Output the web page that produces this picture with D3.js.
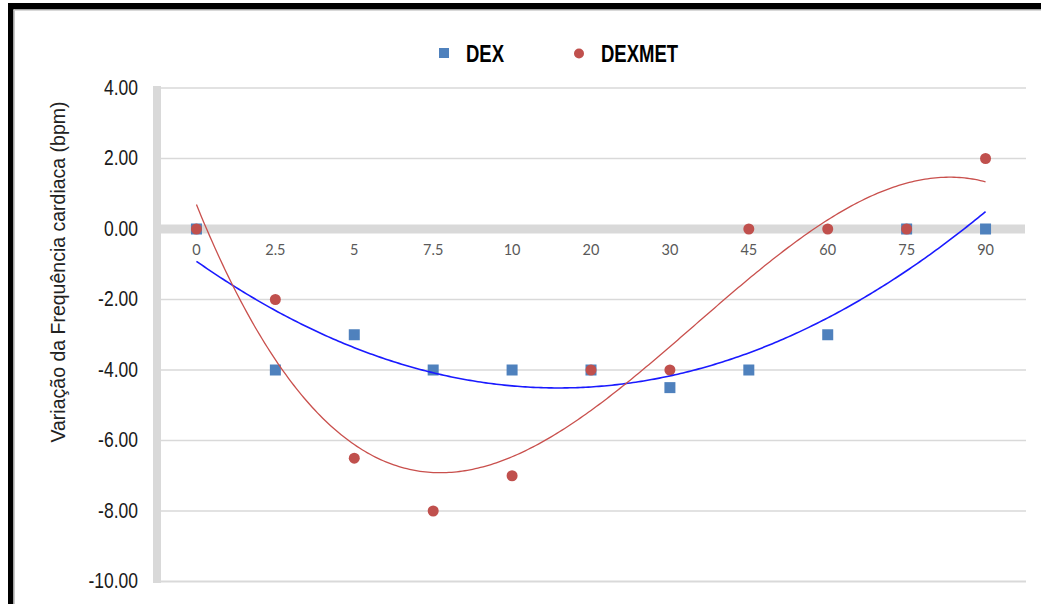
<!DOCTYPE html>
<html>
<head>
<meta charset="utf-8">
<script src="https://cdn.jsdelivr.net/npm/d3@7"></script>
<style>
  html, body { margin: 0; padding: 0; background: #fff; }
  svg { display: block; }
</style>
</head>
<body>
<svg id="chart" width="1041" height="604"></svg>
<script>
// Time points (min) shown as categories along the axis
const categories = ["0", "2.5", "5", "7.5", "10", "20", "30", "45", "60", "75", "90"];
// Heart-rate change (bpm) per group
const dexValues    = [0, -4, -3, -4, -4, -4, -4.5, -4, -3, 0, 0];
const dexmetValues = [0, -2, -6.5, -8, -7, -4, -4, 0, 0, 0, 2];
const yTicks = [4, 2, 0, -2, -4, -6, -8, -10];
const seriesNames = ["DEX", "DEXMET"];

const svg = d3.select("#chart");
const W = 1041, H = 604;

// frame
svg.append("rect").attr("x", 0).attr("y", 0).attr("width", W).attr("height", H).attr("fill", "#fff");
svg.append("rect").attr("x", 8).attr("y", 3).attr("width", W - 8).attr("height", 6.5).attr("fill", "#000");
svg.append("rect").attr("x", 8).attr("y", 3).attr("width", 5.5).attr("height", H - 3).attr("fill", "#000");
svg.append("rect").attr("x", 13.5).attr("y", 9.5).attr("width", W - 13.5).attr("height", 1.2).attr("fill", "#c8c8c8");
svg.append("rect").attr("x", 13.5).attr("y", 9.5).attr("width", 1.5).attr("height", H - 9.5).attr("fill", "#c8c8c8");

const x = d3.scaleBand().domain(categories).range([157, 1025]).padding(0);
const cx = c => x(c) + x.bandwidth() / 2;
const y = d3.scaleLinear().domain([-10, 4]).range([581.5, 88]);

const gridColor = "#d9d9d9";

// horizontal gridlines
svg.append("g").selectAll("line")
  .data(yTicks.filter(v => v !== 0))
  .join("line")
  .attr("x1", 161).attr("x2", 1026)
  .attr("y1", d => y(d)).attr("y2", d => y(d))
  .attr("stroke", gridColor).attr("stroke-width", d => d === -10 ? 2 : 1.5);

// vertical axis bar
svg.append("rect").attr("x", 153).attr("y", 86).attr("width", 8)
  .attr("height", y(-10) - 86 + 1.5).attr("fill", gridColor);

// zero line (category axis)
svg.append("rect").attr("x", 157).attr("y", y(0) - 4.5).attr("width", 1025 - 157)
  .attr("height", 9).attr("fill", gridColor);

// y tick labels (plain hyphen for negatives)
const yAxis = d3.axisLeft(y).tickValues(yTicks).tickFormat(d => d.toFixed(2)).tickSize(0).tickPadding(0);
const yg = svg.append("g").attr("transform", "translate(138,0)").call(yAxis);
yg.select(".domain").remove();
yg.selectAll(".tick text")
  .attr("x", 0).attr("dy", 0)
  .attr("fill", "#1a1a1a")
  .style("font-family", "'Liberation Sans', Arial, sans-serif")
  .style("font-size", "17.5px")
  .attr("text-anchor", "end")
  .attr("transform", "translate(0,6.5) scale(1,1.22)");
yg.selectAll(".tick").each(function(d) {
  d3.select(this).attr("transform", `translate(0,${y(d)})`);
});

// x category labels
const xAxis = d3.axisBottom(x).tickSize(0).tickPadding(0);
const xg = svg.append("g").attr("transform", "translate(0,255)").call(xAxis);
xg.select(".domain").remove();
xg.selectAll(".tick text")
  .attr("y", 0).attr("dy", 0)
  .attr("fill", "#595959")
  .style("font-family", "Lato, 'Open Sans', sans-serif")
  .style("font-size", "14.5px");

// y axis title
svg.append("text")
  .attr("transform", `translate(65,${272}) rotate(-90)`)
  .attr("text-anchor", "middle")
  .attr("fill", "#222")
  .style("font-family", "'Liberation Sans', Arial, sans-serif")
  .style("font-size", "19.5px")
  .text("Variação da Frequência cardiaca (bpm)");

// least-squares polynomial fit on category positions 1..n
function polyfit(ys, order) {
  const n = order + 1;
  const A = Array.from({length: n}, () => new Array(n + 1).fill(0));
  ys.forEach((v, i) => {
    const t = i + 1;
    for (let r = 0; r < n; r++) {
      for (let c = 0; c < n; c++) A[r][c] += Math.pow(t, r + c);
      A[r][n] += v * Math.pow(t, r);
    }
  });
  for (let p = 0; p < n; p++) {
    let m = p;
    for (let r = p + 1; r < n; r++) if (Math.abs(A[r][p]) > Math.abs(A[m][p])) m = r;
    [A[p], A[m]] = [A[m], A[p]];
    for (let r = 0; r < n; r++) {
      if (r === p) continue;
      const f = A[r][p] / A[p][p];
      for (let c = p; c <= n; c++) A[r][c] -= f * A[p][c];
    }
  }
  const coef = A.map((row, i) => row[n] / row[i]);
  return t => coef.reduce((s, a, k) => s + a * Math.pow(t, k), 0);
}

const idx = d3.scaleLinear().domain([1, categories.length]).range([cx(categories[0]), cx(categories[categories.length - 1])]);
const samples = d3.range(0, 301).map(i => 1 + (categories.length - 1) * i / 300);
const line = d3.line().x(d => idx(d[0])).y(d => y(d[1])).curve(d3.curveLinear);

const series = [
  {name: seriesNames[0], values: dexValues, color: "#4f81bd", trend: "#1a1aff", order: 2, tw: 1.6},
  {name: seriesNames[1], values: dexmetValues, color: "#c0504d", trend: "#c9504d", order: 3, tw: 1.3}
];

// markers
series.forEach(s => {
  const g = svg.append("g");
  if (s.name === "DEX") {
    g.selectAll("rect").data(s.values).join("rect")
      .attr("x", (d, i) => cx(categories[i]) - 5.5)
      .attr("y", d => y(d) - 5.5)
      .attr("width", 11).attr("height", 11)
      .attr("fill", s.color);
  } else {
    g.selectAll("circle").data(s.values).join("circle")
      .attr("cx", (d, i) => cx(categories[i]))
      .attr("cy", d => y(d))
      .attr("r", 5.5)
      .attr("fill", s.color);
  }
});

// trendlines
series.forEach(s => {
  const f = polyfit(s.values, s.order);
  svg.append("path")
    .datum(samples.map(t => [t, f(t)]))
    .attr("d", line)
    .attr("fill", "none")
    .attr("stroke", s.trend)
    .attr("stroke-width", s.tw);
});

// legend
const legend = svg.append("g");
legend.append("rect").attr("x", 439).attr("y", 48).attr("width", 10).attr("height", 10).attr("fill", "#4f81bd");
legend.append("circle").attr("cx", 579).attr("cy", 53.5).attr("r", 5).attr("fill", "#c0504d");
[[466, seriesNames[0]], [601, seriesNames[1]]].forEach(([lx, t]) => {
  legend.append("text")
    .attr("transform", `translate(${lx},61.5) scale(1,1.25)`)
    .attr("fill", "#000")
    .style("font-family", "'Liberation Sans', Arial, sans-serif")
    .style("font-weight", "bold")
    .style("font-size", "18.5px")
    .text(t);
});
</script>
</body>
</html>
